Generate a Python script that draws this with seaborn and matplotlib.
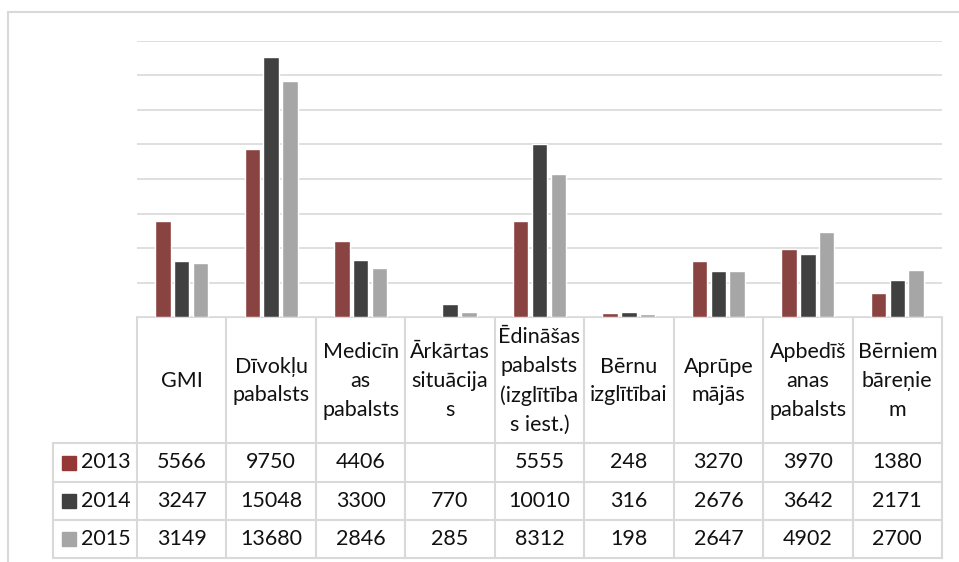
import numpy as np
import pandas as pd
import matplotlib
matplotlib.use("Agg")
import matplotlib.pyplot as plt
from matplotlib.patches import Rectangle
import seaborn as sns

# ---- data ----
categories = ["GMI", "Dīvokļu\npabalsts", "Medicīn\nas\npabalsts", "Ārkārtas\nsituācija\ns",
              "Ēdināšas\npabalsts\n(izglītība\ns iest.)", "Bērnu\nizglītībai", "Aprūpe\nmājās",
              "Apbedīš\nanas\npabalsts", "Bērniem\nbāreņie\nm"]
years = ["2013", "2014", "2015"]
v2013 = [5566, 9750, 4406, np.nan, 5555, 248, 3270, 3970, 1380]
v2014 = [3247, 15048, 3300, 770, 10010, 316, 2676, 3642, 2171]
v2015 = [3149, 13680, 2846, 285, 8312, 198, 2647, 4902, 2700]
colors = ["#953735", "#404040", "#a6a6a6"]

series = [v2013, v2014, v2015]
rows = []
for y, vals in zip(years, series):
    for c, v in zip(categories, vals):
        rows.append({"cat": c, "year": y, "val": v})
df = pd.DataFrame(rows)

sns.set_theme(style="white")
plt.rcParams["font.family"] = ["Lato", "DejaVu Sans"]

W, H = 959, 562
fig = plt.figure(figsize=(W / 100, H / 100), dpi=100)

GRID = "#d9d9d9"
TXT = "#111111"
px0, px1 = 137, 942
ytop, ybase = 41, 317

ax = fig.add_axes([px0 / W, 1 - ybase / H, (px1 - px0) / W, (ybase - ytop) / H])
sns.barplot(data=df, x="cat", y="val", hue="year", palette=colors, order=categories,
            hue_order=years, width=0.63, gap=0.18, ax=ax, legend=False, zorder=3)
ax.set_ylim(0, 16000)
ax.set_xlim(-0.5, len(categories) - 0.5)
ax.set_yticks(np.arange(0, 16001, 2000))
ax.set_yticklabels([])
ax.set_xticks([])
ax.set_xlabel("")
ax.set_ylabel("")
ax.yaxis.grid(True, color=GRID, lw=1.2, zorder=0)
ax.set_axisbelow(True)
for s in ax.spines.values():
    s.set_visible(False)
ax.tick_params(left=False, bottom=False)

# ---- overlay (table + frame) in pixel coords ----
ov = fig.add_axes([0, 0, 1, 1], zorder=-1)
ov.set_xlim(0, W)
ov.set_ylim(H, 0)
ov.axis("off")

# outer frame
ov.plot([8, 8], [12, H], color=GRID, lw=1.5)
ov.plot([8, W], [12, 12], color=GRID, lw=1.5)

n = len(categories)
cw = (px1 - px0) / n
lx = 53
row_y = [317, 443, 482, 520, 558]

# horizontal lines
ov.plot([px0, px1], [row_y[0], row_y[0]], color=GRID, lw=1.5)
for yy in row_y[1:]:
    ov.plot([lx, px1], [yy, yy], color=GRID, lw=1.5)
# vertical lines
for i in range(n + 1):
    xx = px0 + i * cw
    ov.plot([xx, xx], [row_y[0], row_y[-1]], color=GRID, lw=1.5)
ov.plot([lx, lx], [row_y[1], row_y[-1]], color=GRID, lw=1.5)

fs = 15.5
for i, c in enumerate(categories):
    cx = px0 + (i + 0.5) * cw
    ov.text(cx, (row_y[0] + row_y[1]) / 2 + 1, c, ha="center", va="center",
            fontsize=fs, color=TXT, linespacing=1.55)

for r, (y, vals, col) in enumerate(zip(years, series, colors)):
    cy = (row_y[r + 1] + row_y[r + 2]) / 2
    ov.add_patch(Rectangle((62, cy - 7), 14, 14, color=col))
    ov.text(81, cy, y, ha="left", va="center", fontsize=fs, color=TXT)
    for i, v in enumerate(vals):
        if np.isnan(v):
            continue
        cx = px0 + (i + 0.5) * cw
        ov.text(cx, cy, f"{int(v)}", ha="center", va="center", fontsize=fs, color=TXT)

fig.savefig("out.png", dpi=100)
